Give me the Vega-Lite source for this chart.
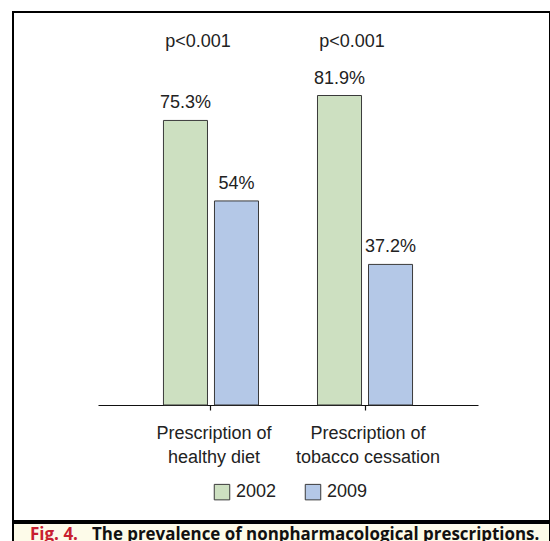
{
  "$schema": "https://vega.github.io/schema/vega-lite/v6.json",
  "padding": {"left": 12, "top": 11, "right": 0, "bottom": 0},
  "background": "white",
  "spacing": 0,
  "config": {"font": "Liberation Sans", "concat": {"spacing": 0}},
  "vconcat": [
    {
      "width": 537,
      "height": 509,
      "view": {"stroke": "black", "strokeWidth": 2, "fill": "white"},
      "data": {
        "values": [
          {"cat": "Prescription of\nhealthy diet", "year": "2002", "pct": 0.753},
          {"cat": "Prescription of\nhealthy diet", "year": "2009", "pct": 0.54},
          {"cat": "Prescription of\ntobacco cessation", "year": "2002", "pct": 0.819},
          {"cat": "Prescription of\ntobacco cessation", "year": "2009", "pct": 0.372}
        ]
      },
      "layer": [
        {
          "mark": {"type": "bar", "stroke": "#3a3a3a", "strokeWidth": 1},
          "encoding": {
            "x": {
              "field": "cat", "type": "nominal", "sort": null,
              "scale": {"range": [85, 465], "paddingInner": 0.383, "paddingOuter": 0.425},
              "axis": {
                "title": null, "orient": "bottom", "offset": -116,
                "domainColor": "#111", "domainWidth": 1.2,
                "tickColor": "#111", "tickSize": 5, "tickWidth": 1.2,
                "labelFontSize": 18, "labelColor": "#222", "labelFont": "Liberation Sans",
                "labelAngle": 0, "labelPadding": 14, "labelBaseline": "top",
                "labelLineHeight": 24, "labelExpr": "split(datum.value, '\\n')",
                "labelOffset": 3, "grid": false
              }
            },
            "xOffset": {"field": "year", "type": "nominal", "scale": {"paddingInner": 0.137, "paddingOuter": 0}},
            "y": {"field": "pct", "type": "quantitative", "scale": {"domain": [-0.307, 1.04], "nice": false, "zero": false}, "axis": null},
            "color": {
              "field": "year", "type": "nominal",
              "scale": {"domain": ["2002", "2009"], "range": ["#cde0c1", "#b4c8e7"]},
              "legend": {
                "title": null, "orient": "none", "legendX": 200, "legendY": 471,
                "direction": "horizontal", "symbolType": "square", "symbolSize": 240,
                "symbolStrokeColor": "#3a3a3a", "symbolStrokeWidth": 1,
                "labelFontSize": 18, "labelColor": "#222", "labelFont": "Liberation Sans",
                "labelOffset": 5, "columnPadding": 26
              }
            }
          }
        },
        {
          "mark": {"type": "text", "dy": -12, "baseline": "alphabetic", "fontSize": 18, "color": "#222", "font": "Liberation Sans"},
          "encoding": {
            "x": {"field": "cat", "type": "nominal", "sort": null},
            "xOffset": {"field": "year", "type": "nominal"},
            "y": {"field": "pct", "type": "quantitative"},
            "text": {"field": "pct", "type": "quantitative", "format": ".1~%"}
          }
        },
        {
          "data": {
            "values": [
              {"cat": "Prescription of\nhealthy diet", "p": "p<0.001"},
              {"cat": "Prescription of\ntobacco cessation", "p": "p<0.001"}
            ]
          },
          "mark": {"type": "text", "dx": -13, "baseline": "alphabetic", "fontSize": 18, "color": "#222", "font": "Liberation Sans"},
          "encoding": {
            "x": {"field": "cat", "type": "nominal", "sort": null},
            "y": {"datum": 0.948},
            "text": {"field": "p"}
          }
        }
      ]
    },
    {
      "width": 537,
      "height": 21,
      "view": {"stroke": "black", "strokeWidth": 2, "fill": "#fdfbe9"},
      "layer": [
        {
          "data": {"values": [{"t": "Fig. 4."}]},
          "mark": {"type": "text", "align": "left", "baseline": "alphabetic", "dx": -251.5, "dy": 6, "font": "Open Sans", "fontWeight": "bold", "fontSize": 17, "color": "#c8202f"},
          "encoding": {"text": {"field": "t"}}
        },
        {
          "data": {"values": [{"t": "The prevalence of nonpharmacological prescriptions."}]},
          "mark": {"type": "text", "align": "left", "baseline": "alphabetic", "dx": -189.5, "dy": 6, "font": "Open Sans", "fontWeight": "bold", "fontSize": 16.9, "color": "#111"},
          "encoding": {"text": {"field": "t"}}
        }
      ]
    }
  ]
}
